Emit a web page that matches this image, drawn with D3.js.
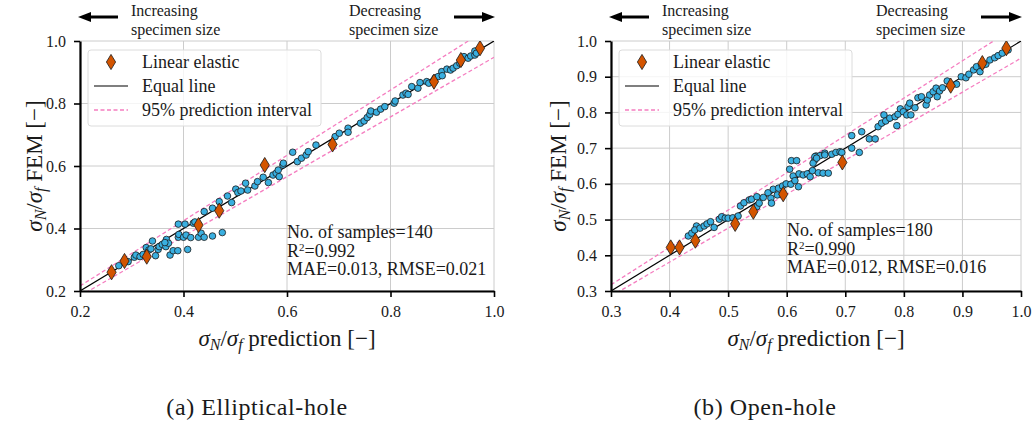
<!DOCTYPE html>
<html>
<head>
<meta charset="utf-8">
<title>Prediction vs FEM</title>
<script src="https://d3js.org/d3.v7.min.js"></script>
<style>
  body { margin: 0; background: #fff; }
  svg text { font-family: "Liberation Serif", "DejaVu Serif", "Noto Serif", serif; fill: #1a1a1a; }
</style>
</head>
<body>
<script>
// ---- data ----
const ellipPoints = [
  [0.275,0.281],[0.293,0.294],[0.305,0.308],[0.308,0.315],[0.316,0.310],[0.322,0.317],[0.328,0.339],[0.333,0.331],
  [0.340,0.360],[0.337,0.335],[0.346,0.313],[0.351,0.333],[0.353,0.342],[0.359,0.349],[0.366,0.342],[0.367,0.365],
  [0.371,0.353],[0.364,0.355],[0.374,0.315],[0.380,0.329],[0.389,0.329],[0.390,0.414],[0.390,0.372],[0.391,0.381],
  [0.400,0.372],[0.403,0.414],[0.405,0.379],[0.408,0.333],[0.414,0.371],[0.419,0.417],[0.422,0.421],[0.429,0.372],
  [0.434,0.385],[0.440,0.372],[0.440,0.454],[0.456,0.465],[0.456,0.376],[0.469,0.486],[0.475,0.387],[0.485,0.504],
  [0.493,0.483],[0.501,0.526],[0.505,0.515],[0.511,0.520],[0.520,0.545],[0.524,0.523],[0.538,0.536],[0.543,0.550],
  [0.554,0.564],[0.564,0.547],[0.573,0.571],[0.579,0.577],[0.583,0.587],[0.585,0.566],[0.592,0.603],[0.593,0.609],
  [0.611,0.644],[0.620,0.614],[0.628,0.625],[0.637,0.635],[0.641,0.646],[0.656,0.667],[0.693,0.694],[0.701,0.705],
  [0.718,0.721],[0.718,0.708],[0.742,0.737],[0.749,0.744],[0.755,0.755],[0.760,0.765],[0.762,0.776],[0.773,0.772],
  [0.781,0.782],[0.789,0.790],[0.807,0.801],[0.809,0.808],[0.824,0.827],[0.830,0.833],[0.834,0.829],[0.841,0.854],
  [0.853,0.849],[0.857,0.867],[0.870,0.870],[0.874,0.865],[0.886,0.881],[0.892,0.886],[0.899,0.902],[0.900,0.889],
  [0.909,0.910],[0.916,0.907],[0.921,0.913],[0.928,0.921],[0.934,0.929],[0.942,0.950],[0.950,0.945],[0.955,0.952],
  [0.963,0.955],[0.963,0.968],[0.966,0.961]
];
const ellipLinear = [
  [0.261,0.260],[0.286,0.296],[0.329,0.310],[0.429,0.411],[0.469,0.457],
  [0.557,0.603],[0.688,0.669],[0.884,0.870],[0.936,0.939],[0.973,0.977]
];
const openPoints = [
  [0.432,0.454],[0.438,0.462],[0.446,0.482],[0.443,0.471],[0.452,0.476],[0.459,0.482],[0.464,0.488],[0.470,0.494],
  [0.476,0.478],[0.485,0.501],[0.489,0.508],[0.495,0.504],[0.500,0.504],[0.508,0.505],[0.517,0.510],[0.521,0.538],
  [0.527,0.547],[0.536,0.555],[0.540,0.557],[0.549,0.564],[0.549,0.536],[0.553,0.546],[0.560,0.562],[0.568,0.575],
  [0.573,0.560],[0.574,0.546],[0.577,0.585],[0.584,0.569],[0.586,0.588],[0.593,0.594],[0.599,0.600],[0.607,0.599],
  [0.605,0.641],[0.608,0.665],[0.617,0.665],[0.611,0.622],[0.614,0.609],[0.620,0.592],[0.621,0.628],[0.628,0.625],
  [0.635,0.628],[0.640,0.620],[0.644,0.637],[0.650,0.678],[0.654,0.631],[0.648,0.667],[0.648,0.676],[0.657,0.679],
  [0.665,0.686],[0.677,0.683],[0.684,0.688],[0.691,0.690],[0.694,0.688],[0.711,0.700],[0.724,0.688],[0.711,0.735],
  [0.728,0.746],[0.741,0.726],[0.751,0.726],[0.756,0.760],[0.762,0.770],[0.766,0.793],[0.769,0.776],[0.776,0.784],
  [0.785,0.788],[0.788,0.763],[0.790,0.795],[0.794,0.810],[0.799,0.802],[0.805,0.793],[0.807,0.816],[0.810,0.826],
  [0.812,0.793],[0.819,0.813],[0.824,0.841],[0.830,0.844],[0.838,0.821],[0.840,0.835],[0.844,0.849],[0.850,0.858],
  [0.855,0.868],[0.857,0.844],[0.861,0.860],[0.866,0.869],[0.874,0.888],[0.890,0.879],[0.898,0.900],[0.906,0.897],
  [0.911,0.907],[0.919,0.919],[0.924,0.928],[0.930,0.914],[0.933,0.931],[0.940,0.935],[0.947,0.947],[0.955,0.953],
  [0.961,0.959],[0.968,0.966],[0.978,0.975],[0.645,0.658],[0.662,0.630],[0.671,0.630],[0.651,0.672],[0.665,0.681]
];
const openLinear = [
  [0.402,0.422],[0.417,0.422],[0.444,0.441],[0.512,0.488],[0.543,0.522],
  [0.594,0.571],[0.695,0.660],[0.880,0.875],[0.934,0.938],[0.975,0.980]
];

const ellipTicks = [0.2, 0.4, 0.6, 0.8, 1.0];
const openTicks = [0.3, 0.4, 0.5, 0.6, 0.7, 0.8, 0.9, 1.0];

// prediction interval lines: [slope, intercept]
const ellipBand = [[1.045, 0.007], [0.955, -0.007]];
const openBand = [[1.045, 0.004], [0.952, 0.0]];

const ellipStats = ["No. of samples=140", "0.992", "MAE=0.013, RMSE=0.021"];
const openStats = ["No. of samples=180", "0.990", "MAE=0.012, RMSE=0.016"];

const legendLabels = ["Linear elastic", "Equal line", "95% prediction interval"];
const leftNote = ["Increasing", "specimen size"];
const rightNote = ["Decreasing", "specimen size"];

// ---- styles ----
const serif = "'Liberation Serif', 'DejaVu Serif', 'Noto Serif', serif";
const blue = "#3aafe0";
const orange = "#d35400";
const pink = "#f57ec0";
const gridColor = "#cccccc";

const svg = d3.select("body").append("svg")
    .attr("width", 1035)
    .attr("height", 427)
    .attr("font-family", serif);

function diamond(w, h) {
  return `M0,${-h}L${w},0L0,${h}L${-w},0Z`;
}

function arrow(g, x0, x1, y, dir) {
  // dir = -1 head on the left, 1 head on the right
  const tip = dir < 0 ? x0 : x1;
  const tail = dir < 0 ? x1 : x0;
  const back = tip - dir * 13;
  g.append("line")
      .attr("x1", tail).attr("x2", back + dir * 1)
      .attr("y1", y).attr("y2", y)
      .attr("stroke", "#000").attr("stroke-width", 3);
  g.append("path")
      .attr("d", `M${tip},${y}L${back},${y - 5}L${back},${y + 5}Z`)
      .attr("fill", "#000");
}

function sigmaLabel(t, rest, sub) {
  t.append("tspan").attr("font-style", "italic").text("σ");
  t.append("tspan").attr("font-style", "italic").attr("font-size", sub).attr("dy", 4).text("N");
  t.append("tspan").attr("dy", -4).text("/");
  t.append("tspan").attr("font-style", "italic").text("σ");
  t.append("tspan").attr("font-style", "italic").attr("font-size", sub).attr("dy", 4).text("f");
  t.append("tspan").attr("dy", -4).text(rest);
}

function note(g, x, lines) {
  g.append("text").attr("x", x).attr("y", 16).text(lines[0]);
  g.append("text").attr("x", x).attr("y", 34.5).text(lines[1]);
}

function drawPanel(p) {
  const x = d3.scaleLinear().domain(p.domain).range([p.left, p.right]);
  const y = d3.scaleLinear().domain(p.domain).range([p.bottom, p.top]);
  const g = svg.append("g");

  // grid
  g.append("g").selectAll("line")
    .data(p.ticks).join("line")
      .attr("x1", d => x(d)).attr("x2", d => x(d))
      .attr("y1", p.top).attr("y2", p.bottom)
      .attr("stroke", gridColor).attr("stroke-width", 1);
  g.append("g").selectAll("line")
    .data(p.ticks).join("line")
      .attr("y1", d => y(d)).attr("y2", d => y(d))
      .attr("x1", p.left).attr("x2", p.right)
      .attr("stroke", gridColor).attr("stroke-width", 1);

  const clip = "clip" + p.id;
  svg.append("clipPath").attr("id", clip)
    .append("rect")
      .attr("x", p.left).attr("y", p.top)
      .attr("width", p.right - p.left).attr("height", p.bottom - p.top);

  const plot = g.append("g").attr("clip-path", `url(#${clip})`);
  const lo = p.domain[0], hi = p.domain[1];

  // prediction interval
  p.band.forEach(b => {
    plot.append("line")
        .attr("x1", x(lo)).attr("y1", y(b[0] * lo + b[1]))
        .attr("x2", x(hi)).attr("y2", y(b[0] * hi + b[1]))
        .attr("stroke", pink).attr("stroke-width", 1.3)
        .attr("stroke-dasharray", "4,2.5");
  });

  // equal line
  plot.append("line")
      .attr("x1", x(lo)).attr("y1", y(lo))
      .attr("x2", x(hi)).attr("y2", y(hi))
      .attr("stroke", "#000").attr("stroke-width", 1.2);

  plot.append("g").selectAll("circle")
    .data(p.points).join("circle")
      .attr("cx", d => x(d[0])).attr("cy", d => y(d[1]))
      .attr("r", 3.3)
      .attr("fill", blue).attr("stroke", "#1a1a1a").attr("stroke-width", 0.8);

  plot.append("g").selectAll("path")
    .data(p.linear).join("path")
      .attr("transform", d => `translate(${x(d[0])},${y(d[1])})`)
      .attr("d", diamond(4.6, 7.6))
      .attr("fill", orange).attr("stroke", "#1a1a1a").attr("stroke-width", 0.8);

  // axes
  const ax = g.append("g")
      .attr("transform", `translate(0,${p.bottom})`)
      .call(d3.axisBottom(x).tickValues(p.ticks).tickFormat(d3.format(".1f")).tickSize(6).tickSizeOuter(0));
  const ay = g.append("g")
      .attr("transform", `translate(${p.left},0)`)
      .call(d3.axisLeft(y).tickValues(p.ticks).tickFormat(d3.format(".1f")).tickSize(6).tickSizeOuter(0));
  [ax, ay].forEach(a => {
    a.attr("font-family", serif);
    a.select(".domain").attr("stroke", "#000").attr("stroke-width", 2.2);
    a.selectAll(".tick line").attr("stroke", "#000").attr("stroke-width", 1.6);
    a.selectAll(".tick text")
        .attr("font-size", 16).attr("fill", "#1a1a1a");
  });
  ax.selectAll(".tick text").attr("dy", "1.05em");
  ay.selectAll(".tick text").attr("x", -14);

  // legend
  const lg = g.append("g").attr("transform", `translate(${p.left + 8},50)`);
  lg.append("rect")
      .attr("width", 233).attr("height", 76).attr("rx", 3)
      .attr("fill", "#fff").attr("fill-opacity", 0.8)
      .attr("stroke", "#dcdcdc").attr("stroke-width", 1);
  lg.append("path")
      .attr("transform", "translate(23,12)")
      .attr("d", diamond(4.6, 7.6))
      .attr("fill", orange).attr("stroke", "#1a1a1a").attr("stroke-width", 0.8);
  lg.append("line")
      .attr("x1", 6).attr("x2", 40).attr("y1", 36).attr("y2", 36)
      .attr("stroke", "#000").attr("stroke-width", 1.2);
  lg.append("line")
      .attr("x1", 6).attr("x2", 40).attr("y1", 60).attr("y2", 60)
      .attr("stroke", pink).attr("stroke-width", 1.3).attr("stroke-dasharray", "4,2.5");
  lg.selectAll("text.lab")
    .data(legendLabels).join("text")
      .attr("class", "lab")
      .attr("x", 54).attr("y", (d, i) => 18 + i * 24)
      .attr("font-size", 18)
      .text(d => d);

  // stats, one text element with three lines
  const st = g.append("text")
      .attr("font-size", 18)
      .attr("x", p.statX).attr("y", p.statY);
  st.append("tspan").attr("x", p.statX).text(p.stats[0]);
  st.append("tspan").attr("x", p.statX).attr("dy", 18.5).text("R");
  st.append("tspan").attr("font-size", 11).attr("dy", -6).text("2");
  st.append("tspan").attr("dy", 6).text("=" + p.stats[1]);
  st.append("tspan").attr("x", p.statX).attr("dy", 18.5).text(p.stats[2]);

  // axis labels
  const cx = (p.left + p.right) / 2;
  const xl = g.append("text")
      .attr("x", cx).attr("y", 346)
      .attr("text-anchor", "middle").attr("font-size", 23);
  sigmaLabel(xl, " prediction [−]", 16);

  const cy = (p.top + p.bottom) / 2;
  const yl = g.append("text")
      .attr("transform", `translate(${p.ylabelX},${cy}) rotate(-90)`)
      .attr("text-anchor", "middle").attr("font-size", 23);
  sigmaLabel(yl, " FEM [−]", 16);

  // direction arrows and notes
  const top = g.append("g").attr("font-size", 16);
  arrow(top, p.left - 2, p.left + 38, 17, -1);
  arrow(top, p.right - 40, p.right + 1, 17, 1);
  note(top, p.left + 51, leftNote);
  note(top, p.right - 145, rightNote);

  // caption
  g.append("text")
      .attr("x", p.captionX).attr("y", 415)
      .attr("text-anchor", "middle").attr("font-size", 24)
      .attr("letter-spacing", 0.6)
      .text(p.caption);
}

drawPanel({
  id: "a", domain: [0.2, 1.0], ticks: ellipTicks,
  left: 80, right: 494, top: 41, bottom: 291,
  points: ellipPoints, linear: ellipLinear, band: ellipBand,
  stats: ellipStats, statX: 287, statY: 238, ylabelX: 42,
  caption: "(a) Elliptical-hole", captionX: 257
});

drawPanel({
  id: "b", domain: [0.3, 1.0], ticks: openTicks,
  left: 611, right: 1021, top: 41, bottom: 291,
  points: openPoints, linear: openLinear, band: openBand,
  stats: openStats, statX: 787, statY: 236, ylabelX: 566,
  caption: "(b) Open-hole", captionX: 765
});
</script>
</body>
</html>
